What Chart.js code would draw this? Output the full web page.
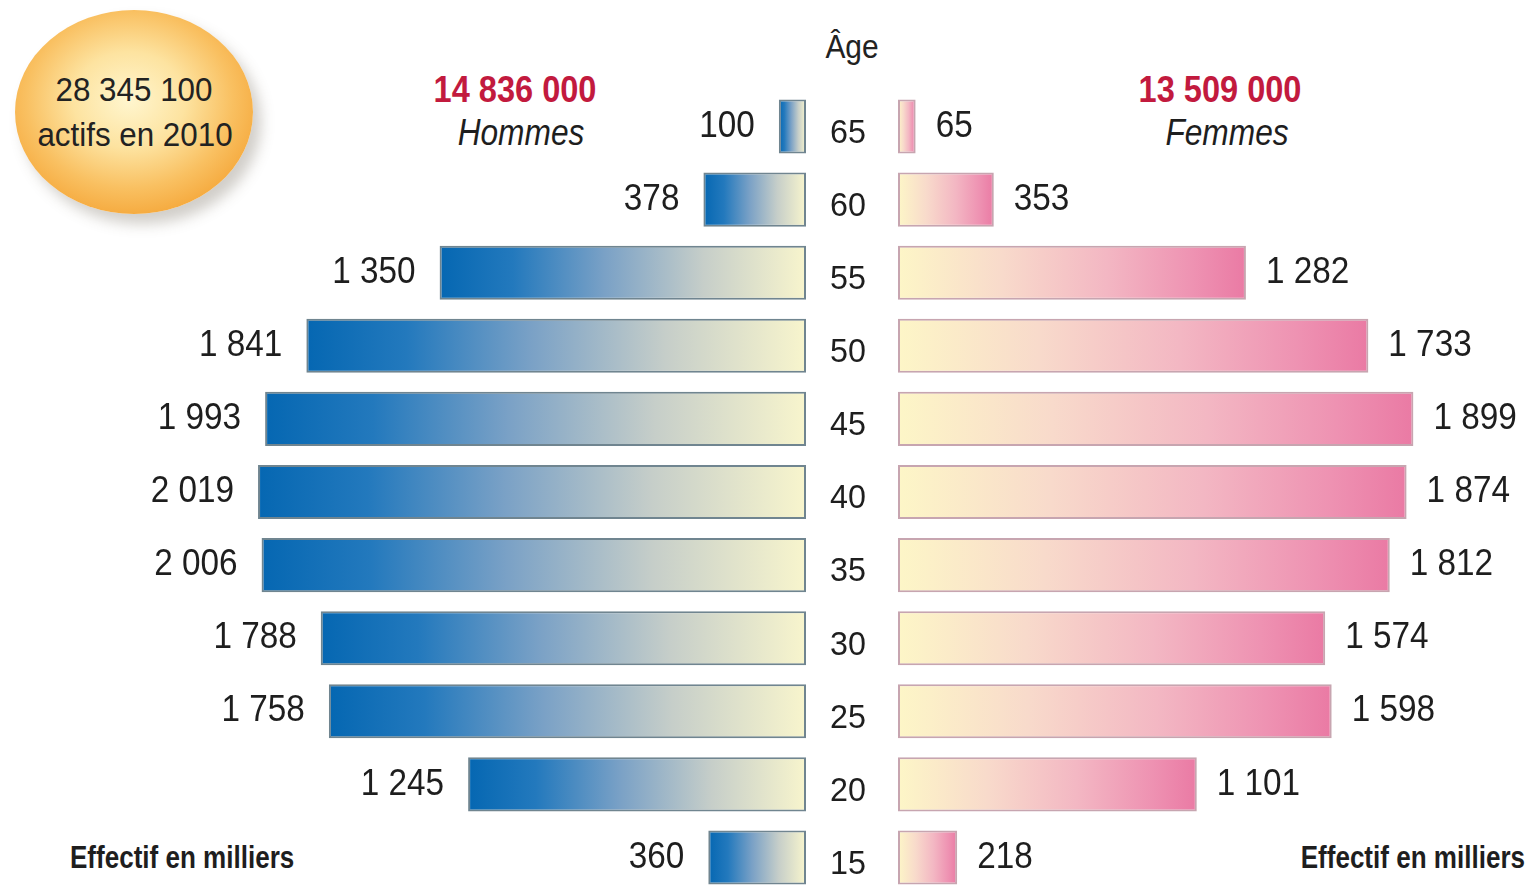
<!DOCTYPE html>
<html lang="fr">
<head>
<meta charset="utf-8">
<title>Actifs en 2010 par âge et par sexe</title>
<script src="https://cdn.jsdelivr.net/npm/chart.js@4.4.1/dist/chart.umd.min.js"></script>
<style>
  html, body { margin: 0; padding: 0; width: 1535px; height: 887px; overflow: hidden; background: #ffffff; }
  body { position: relative; font-family: "Liberation Sans", Arial, sans-serif; color: #222; }
  canvas { position: absolute; top: 0; }
  #left { left: 0; }
  #right { left: 806px; }
  .lbl { position: absolute; white-space: nowrap; line-height: 1; }
  .c { transform: translate(-50%, -50%) scaleX(0.88); }
  .l { transform-origin: left center; transform: translateY(-50%) scaleX(0.84); }
  .r { transform-origin: right center; transform: translate(-100%, -50%) scaleX(0.84); }
  .badge {
    position: absolute; left: 15px; top: 10px; width: 238px; height: 204px; border-radius: 50%;
    background: radial-gradient(ellipse 62% 62% at 48% 44%, #fff6cf 0%, #fde3a0 38%, #f9c061 70%, #f4a232 100%);
    box-shadow: 8px 10px 14px rgba(90, 80, 60, 0.28);
  }
  .red { color: #c21a3e; font-weight: bold; font-size: 37px; }
  .sex { font-style: italic; font-size: 36px; color: #1e1e1e; }
  .eff { font-weight: bold; font-size: 31px; color: #1e1e1e; }
</style>
</head>
<body>
<div class="badge"></div>
<div class="lbl c" style="left:134px; top:89px; font-size:33px; transform: translate(-50%,-50%) scaleX(0.95);">28 345 100</div>
<div class="lbl c" style="left:135px; top:134px; font-size:33px; transform: translate(-50%,-50%) scaleX(0.95);">actifs en 2010</div>
<div class="lbl c red" style="left:515px; top:89px;">14 836 000</div>
<div class="lbl c sex" style="left:521px; top:133px;">Hommes</div>
<div class="lbl c red" style="left:1220px; top:89px;">13 509 000</div>
<div class="lbl c sex" style="left:1227px; top:133px;">Femmes</div>
<div class="lbl c" style="left:852px; top:46px; font-size:34px;">Âge</div>
<div class="lbl l eff" style="left:70px; top:857px;">Effectif en milliers</div>
<div class="lbl r eff" style="left:1525px; top:857px;">Effectif en milliers</div>

<canvas id="left" width="806" height="900"></canvas>
<canvas id="right" width="729" height="900"></canvas>

<script>
// Age groups, from the oldest (top) to the youngest (bottom)
const ages = ['65', '60', '55', '50', '45', '40', '35', '30', '25', '20', '15'];
// Working population in thousands
const hommes = [100, 378, 1350, 1841, 1993, 2019, 2006, 1788, 1758, 1245, 360];
const femmes = [65, 353, 1282, 1733, 1899, 1874, 1812, 1574, 1598, 1101, 218];

// Shared px-per-thousand scale: both sides use the same unit length
const PX_PER_UNIT = 0.2714;
const LEFT_WIDTH = 806;
const RIGHT_AREA = 637;

const fmt = v => String(v).replace(/\B(?=(\d{3})+(?!\d))/g, ' ');

function drawText(ctx, str, x, y, align, font, sx, color) {
  ctx.save();
  ctx.translate(x, y);
  ctx.scale(sx, 1);
  ctx.font = font;
  ctx.fillStyle = color || '#1e1e1e';
  ctx.textAlign = align;
  ctx.textBaseline = 'middle';
  ctx.fillText(str, 0, 0);
  ctx.restore();
}

// Per-bar horizontal gradient running from the axis (value 0) to the bar's end
function barGradient(stops) {
  return function (c) {
    const chart = c.chart;
    const xs = chart.scales && chart.scales.x;
    if (!xs || !chart.chartArea || c.dataIndex === undefined) return stops[stops.length - 1][1];
    const v = c.dataset.data[c.dataIndex];
    const x0 = xs.getPixelForValue(0);
    const x1 = xs.getPixelForValue(v);
    const g = chart.ctx.createLinearGradient(x0, 0, x1, 0);
    stops.forEach(s => g.addColorStop(s[0], s[1]));
    return g;
  };
}

const blueStops = [[0, '#f8f5cd'], [0.28, '#c6cec9'], [0.55, '#7aa1c6'], [0.8, '#2379bd'], [1, '#0567b2']];
const pinkStops = [[0, '#fdf6c7'], [0.3, '#f8dacb'], [0.6, '#f3b7c3'], [0.85, '#ee92b2'], [1, '#ea7aa4']];

const valueLabels = (side) => ({
  id: 'valueLabels' + side,
  afterDatasetsDraw(chart) {
    const ctx = chart.ctx;
    const xs = chart.scales.x, ys = chart.scales.y;
    const data = chart.data.datasets[0].data;
    data.forEach((v, i) => {
      const y = ys.getPixelForValue(i);
      const xe = xs.getPixelForValue(v);
      if (side === 'left') {
        drawText(ctx, fmt(v), xe - 24, y, 'right', '37px "Liberation Sans", Arial, sans-serif', 0.9);
      } else {
        drawText(ctx, fmt(v), xe + 20, y, 'left', '37px "Liberation Sans", Arial, sans-serif', 0.9);
      }
    });
    if (side === 'right') {
      ys.ticks.forEach((t, i) => {
        drawText(ctx, ys.getLabelForValue(t.value), chart.chartArea.left - 50, ys.getPixelForValue(i) + 7,
          'center', '34px "Liberation Sans", Arial, sans-serif', 0.95);
      });
    }
  }
});

function makeChart(id, data, stops, border, side) {
  const isLeft = side === 'left';
  const max = isLeft ? LEFT_WIDTH / PX_PER_UNIT : RIGHT_AREA / PX_PER_UNIT;
  return new Chart(document.getElementById(id), {
    type: 'bar',
    data: {
      labels: ages,
      datasets: [{
        data: data,
        backgroundColor: barGradient(stops),
        borderColor: border,
        borderWidth: 2,
        borderSkipped: false,
        barPercentage: 0.74,
        categoryPercentage: 1
      }]
    },
    options: {
      indexAxis: 'y',
      responsive: false,
      animation: false,
      devicePixelRatio: 1,
      layout: { padding: { top: 90, bottom: 6, left: isLeft ? 0 : 92, right: 0 } },
      plugins: { legend: { display: false }, tooltip: { enabled: false } },
      scales: {
        x: { type: 'linear', min: 0, max: max, reverse: isLeft, display: false },
        y: { type: 'category', display: false, offset: true, grid: { display: false } }
      }
    },
    plugins: [valueLabels(side)]
  });
}

makeChart('left', hommes, blueStops, 'rgba(96,120,132,0.9)', 'left');
makeChart('right', femmes, pinkStops, 'rgba(196,160,172,0.95)', 'right');
</script>
</body>
</html>
